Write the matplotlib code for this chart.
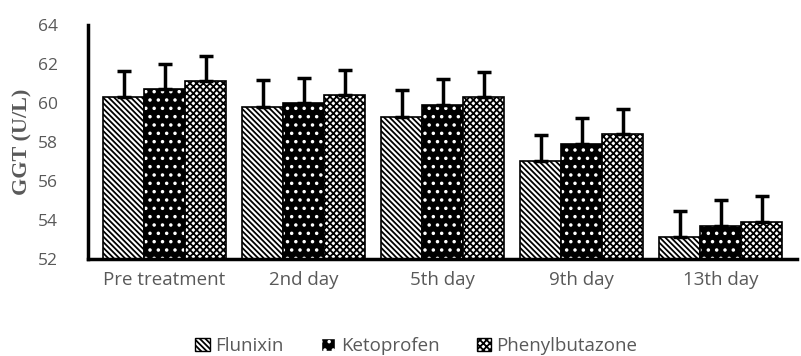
import numpy as np
import matplotlib
matplotlib.use("Agg")
from matplotlib import pyplot as plt
from matplotlib.patches import Patch

days = ["Pre treatment", "2nd day", "5th day", "9th day", "13th day"]
flunixin = [60.3, 59.8, 59.3, 57.0, 53.1]
ketoprofen = [60.7, 60.0, 59.9, 57.9, 53.7]
phenylbutazone = [61.1, 60.4, 60.3, 58.4, 53.9]
flunixin_err = [1.35, 1.35, 1.35, 1.35, 1.35]
ketoprofen_err = [1.3, 1.3, 1.3, 1.3, 1.3]
phenylbutazone_err = [1.3, 1.3, 1.3, 1.3, 1.3]

plt.rcParams['font.family'] = ['Open Sans', 'DejaVu Sans']
plt.rcParams['hatch.linewidth'] = 1.3

fig = plt.figure(figsize=(8.01, 3.56), dpi=100)
ax = fig.add_axes([0.11, 0.273, 0.885, 0.657])

x = np.arange(len(days))
w = 0.295
err_kw = dict(ecolor="black", elinewidth=2.5, capsize=5, capthick=2.5)
h_flu = "\\\\\\\\\\\\"
h_keto = ".."
h_phe = "xxxxx"

# Flunixin: white with diagonal hatching
ax.bar(x - w, flunixin, w, color="white", edgecolor="black",
       hatch=h_flu, linewidth=1.2, yerr=[[0]*5, flunixin_err], error_kw=err_kw)

# Ketoprofen: black with white dots (two layers)
ax.bar(x, ketoprofen, w, color="black", edgecolor="white", hatch=h_keto, linewidth=0)
ax.bar(x, ketoprofen, w, color="none", edgecolor="black", linewidth=1.2,
       yerr=[[0]*5, ketoprofen_err], error_kw=err_kw)

# Phenylbutazone: checkerboard
ax.bar(x + w, phenylbutazone, w, color="white", edgecolor="black",
       hatch=h_phe, linewidth=1.2, yerr=[[0]*5, phenylbutazone_err],
       error_kw=err_kw)

handles = [Patch(facecolor="white", edgecolor="black", hatch=h_flu, label="Flunixin"),
           Patch(facecolor="black", edgecolor="white", hatch=h_keto, label="Ketoprofen"),
           Patch(facecolor="white", edgecolor="black", hatch=h_phe, label="Phenylbutazone")]

ax.set_ylim(52, 64)
ax.set_xlim(-0.55, 4.55)
ax.set_yticks(np.arange(52, 65, 2))
ax.set_xticks(x)
ax.set_xticklabels(days)
ax.tick_params(length=0, labelcolor="#595959")
ax.tick_params(axis="x", labelsize=13.5, pad=9)
ax.tick_params(axis="y", labelsize=12.5, pad=22)
for s in ["top", "right"]:
    ax.spines[s].set_visible(False)
for s in ["left", "bottom"]:
    ax.spines[s].set_linewidth(2.5)
    ax.spines[s].set_color("black")

ax.set_ylabel("GGT (U/L)", family="Liberation Serif", fontweight="bold",
              fontsize=16, color="#595959", labelpad=4)

fig.legend(handles=handles, loc="lower center", ncol=3, frameon=False,
           bbox_to_anchor=(0.52, -0.045), fontsize=13.5, labelcolor="#595959",
           handlelength=0.75, handleheight=0.75, handletextpad=0.3, columnspacing=2.0)

fig.savefig("out.png", dpi=100)
